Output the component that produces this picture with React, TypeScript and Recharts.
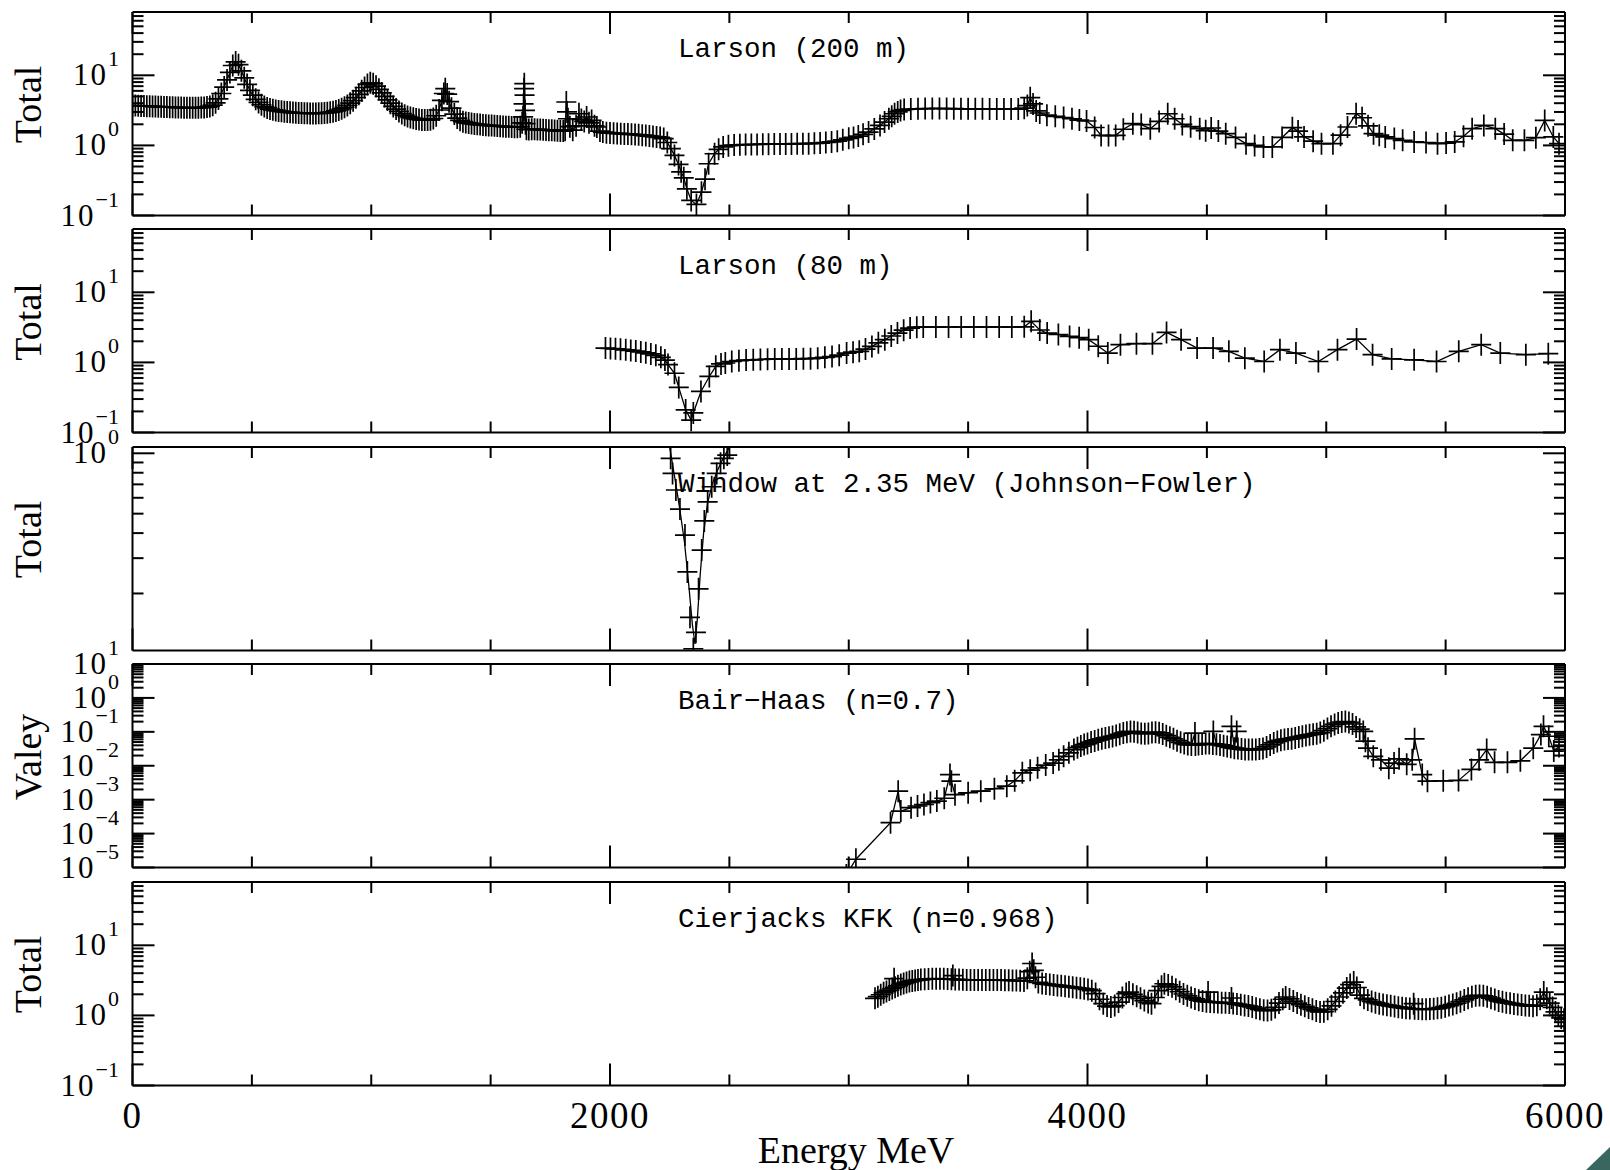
import React from 'react';
import { ComposedChart, Line, Scatter, XAxis, YAxis } from 'recharts';

type Pt = [number, number];

// ---- axis ticks -------------------------------------------------------
const ENERGY_TICKS = [0, 500, 1000, 1500, 2000, 2500, 3000, 3500, 4000, 4500, 5000, 5500, 6000];
const ENERGY_MAJOR = [0, 2000, 4000, 6000];

const TOTAL_DOMAIN: [number, number] = [0.1, 80];
const TOTAL_MAJORS = [
  { value: 0.1, exp: '\u22121' },
  { value: 1, exp: '0' },
  { value: 10, exp: '1' },
];
const TOTAL_MINORS = [0.2, 0.3, 0.4, 0.5, 0.6, 0.7, 0.8, 0.9, 2, 3, 4, 5, 6, 7, 8, 9, 20, 30, 40, 50, 60, 70];

const WINDOW_DOMAIN: [number, number] = [0.1039, 1.075];
const WINDOW_MAJORS = [{ value: 1, exp: '0' }];
const WINDOW_MINORS = [0.2, 0.3, 0.4, 0.5, 0.6, 0.7, 0.8, 0.9];

const VALEY_DOMAIN: [number, number] = [1e-5, 10];
const VALEY_MAJORS = [
  { value: 1e-5, exp: '\u22125' },
  { value: 1e-4, exp: '\u22124' },
  { value: 1e-3, exp: '\u22123' },
  { value: 1e-2, exp: '\u22122' },
  { value: 1e-1, exp: '\u22121' },
  { value: 1, exp: '0' },
  { value: 10, exp: '1' },
];
const VALEY_MINORS = [
  2e-5, 3e-5, 4e-5, 5e-5, 6e-5, 7e-5, 8e-5, 9e-5,
  2e-4, 3e-4, 4e-4, 5e-4, 6e-4, 7e-4, 8e-4, 9e-4,
  2e-3, 3e-3, 4e-3, 5e-3, 6e-3, 7e-3, 8e-3, 9e-3,
  0.02, 0.03, 0.04, 0.05, 0.06, 0.07, 0.08, 0.09,
  0.2, 0.3, 0.4, 0.5, 0.6, 0.7, 0.8, 0.9,
  2, 3, 4, 5, 6, 7, 8, 9,
];

// ---- measured cross sections [energy, value] --------------------------
const larson200: Pt[] = [
  [0, 3.7], [12, 3.7], [24, 3.68], [36, 3.66], [48, 3.65], [60, 3.63], [72, 3.62], [84, 3.6], [96, 3.58],
  [108, 3.57], [120, 3.55], [132, 3.54], [144, 3.52], [156, 3.5], [168, 3.5], [180, 3.48], [192, 3.47],
  [204, 3.46], [216, 3.45], [228, 3.45], [240, 3.44], [252, 3.44], [264, 3.44], [276, 3.45], [288, 3.46],
  [300, 3.48], [312, 3.52], [324, 3.6], [336, 3.75], [348, 4.05], [360, 4.6], [372, 5.5], [384, 6.8],
  [396, 8.6], [408, 11.0], [420, 13.8], [432, 15.5], [444, 14.2], [456, 11.6], [468, 9.2], [480, 7.4],
  [492, 6.1], [504, 5.2], [516, 4.55], [528, 4.1], [540, 3.8], [552, 3.58], [564, 3.42], [576, 3.3],
  [588, 3.22], [600, 3.15], [612, 3.1], [624, 3.06], [636, 3.02], [648, 2.99], [660, 2.96], [672, 2.94],
  [684, 2.92], [696, 2.9], [708, 2.89], [720, 2.88], [732, 2.87], [744, 2.86], [756, 2.86], [768, 2.86],
  [780, 2.87], [792, 2.88], [804, 2.9], [816, 2.93], [828, 2.97], [840, 3.02], [852, 3.1], [864, 3.2],
  [876, 3.33], [888, 3.5], [900, 3.72], [912, 4.0], [924, 4.35], [936, 4.8], [948, 5.35], [960, 6.0],
  [972, 6.7], [984, 7.4], [996, 7.8], [1008, 7.6], [1020, 7.0], [1032, 6.3], [1044, 5.6], [1056, 5.0],
  [1068, 4.45], [1080, 4.0], [1092, 3.6], [1104, 3.3], [1116, 3.05], [1128, 2.85], [1140, 2.7],
  [1152, 2.58], [1164, 2.5], [1176, 2.43], [1188, 2.38], [1200, 2.34], [1212, 2.31], [1224, 2.3],
  [1236, 2.3], [1248, 2.33], [1260, 2.42], [1272, 2.65], [1284, 3.2], [1296, 4.4], [1304, 5.5],
  [1310, 6.45], [1318, 5.4], [1326, 4.2], [1336, 3.4], [1348, 2.8], [1360, 2.45], [1372, 2.28],
  [1384, 2.18], [1396, 2.12], [1408, 2.08], [1420, 2.05], [1432, 2.02], [1444, 2.0], [1456, 1.98],
  [1468, 1.96], [1480, 1.94], [1492, 1.93], [1504, 1.92], [1516, 1.9], [1528, 1.89], [1540, 1.88],
  [1552, 1.86], [1564, 1.85], [1576, 1.84], [1588, 1.83], [1600, 1.82], [1612, 1.82], [1624, 1.85],
  [1632, 2.1], [1636, 2.55], [1638, 3.9], [1640, 6.45], [1641, 7.6], [1642, 5.2], [1644, 3.16],
  [1646, 2.04], [1650, 1.7], [1660, 1.68], [1672, 1.7], [1684, 1.7], [1696, 1.69], [1708, 1.68],
  [1720, 1.67], [1732, 1.66], [1744, 1.65], [1756, 1.64], [1768, 1.63], [1780, 1.62], [1792, 1.6],
  [1804, 1.6], [1812, 1.65], [1817, 4.16], [1820, 3.0], [1824, 2.4], [1832, 1.85], [1844, 1.65],
  [1858, 1.9], [1870, 2.83], [1880, 2.35], [1892, 2.2], [1902, 2.54], [1912, 2.1], [1923, 2.27],
  [1935, 1.9], [1945, 1.83], [1958, 1.6], [1970, 1.55], [1985, 1.52], [2000, 1.5], [2015, 1.49],
  [2030, 1.48], [2045, 1.47], [2060, 1.46], [2075, 1.45], [2090, 1.44], [2105, 1.43], [2120, 1.42],
  [2135, 1.4], [2150, 1.38], [2165, 1.36], [2180, 1.34], [2195, 1.32], [2210, 1.3], [2225, 1.25],
  [2240, 1.1], [2255, 0.9], [2270, 0.72], [2287, 0.535], [2298, 0.42], [2309, 0.345], [2322, 0.24],
  [2340, 0.164], [2362, 0.144], [2383, 0.215], [2398, 0.33], [2413, 0.547], [2438, 0.76], [2455, 0.88],
  [2474, 0.95], [2496, 0.99], [2520, 1.01], [2544, 1.02], [2568, 1.03], [2592, 1.03], [2616, 1.03],
  [2640, 1.04], [2664, 1.04], [2688, 1.05], [2712, 1.05], [2736, 1.05], [2760, 1.05], [2784, 1.06],
  [2808, 1.06], [2832, 1.06], [2856, 1.07], [2880, 1.08], [2904, 1.1], [2928, 1.12], [2952, 1.15],
  [2975, 1.2], [3000, 1.26], [3020, 1.3], [3040, 1.36], [3060, 1.44], [3083, 1.55], [3107, 1.72],
  [3131, 1.93], [3150, 2.15], [3168, 2.4], [3180, 2.6], [3192, 2.83], [3205, 3.0], [3217, 3.16],
  [3232, 3.25], [3260, 3.3], [3290, 3.33], [3320, 3.35], [3350, 3.36], [3380, 3.36], [3410, 3.35],
  [3440, 3.34], [3470, 3.33], [3500, 3.32], [3530, 3.32], [3560, 3.32], [3590, 3.31], [3620, 3.31],
  [3650, 3.3], [3680, 3.3], [3710, 3.3], [3735, 3.4], [3748, 3.7], [3760, 4.8], [3772, 3.9],
  [3785, 3.1], [3800, 2.9], [3830, 2.7], [3865, 2.6], [3900, 2.5], [3935, 2.4], [3966, 2.3],
  [3996, 2.23], [4030, 1.8], [4057, 1.39], [4088, 1.38], [4118, 1.39], [4150, 1.7], [4190, 2.04],
  [4225, 1.98], [4263, 1.73], [4300, 2.2], [4336, 2.83], [4365, 2.4], [4397, 1.99], [4432, 1.85],
  [4470, 1.73], [4495, 1.62], [4518, 1.77], [4548, 1.6], [4579, 1.47], [4620, 1.3], [4664, 1.06],
  [4700, 1.0], [4737, 0.95], [4774, 0.95], [4815, 1.3], [4858, 1.79], [4882, 1.6], [4907, 1.32],
  [4945, 1.15], [4980, 1.06], [5028, 1.06], [5060, 1.4], [5089, 1.83], [5125, 2.83], [5150, 2.48],
  [5175, 1.9], [5198, 1.47], [5222, 1.4], [5247, 1.32], [5285, 1.25], [5320, 1.18], [5368, 1.12],
  [5418, 1.1], [5466, 1.06], [5502, 1.08], [5538, 1.12], [5575, 1.35], [5611, 1.73], [5660, 1.93],
  [5708, 1.73], [5745, 1.45], [5781, 1.18], [5830, 1.18], [5878, 1.29], [5915, 2.27], [5951, 1.32],
  [5975, 1.06],
];

const larson80: Pt[] = [
  [1981, 1.6], [2002, 1.58], [2023, 1.56], [2044, 1.54], [2066, 1.51], [2087, 1.48], [2108, 1.45],
  [2129, 1.41], [2150, 1.37], [2171, 1.32], [2192, 1.26], [2213, 1.18], [2230, 1.08], [2243, 0.93],
  [2270, 0.7], [2288, 0.44], [2317, 0.21], [2340, 0.15], [2349, 0.19], [2381, 0.385], [2416, 0.63],
  [2443, 0.88], [2465, 0.95], [2483, 0.98], [2510, 1.03], [2540, 1.06], [2570, 1.08], [2600, 1.09],
  [2630, 1.1], [2660, 1.11], [2690, 1.12], [2720, 1.12], [2750, 1.12], [2780, 1.12], [2810, 1.13],
  [2840, 1.13], [2870, 1.15], [2900, 1.18], [2930, 1.21], [2960, 1.27], [2991, 1.36], [3018, 1.4],
  [3044, 1.44], [3070, 1.55], [3097, 1.69], [3124, 1.9], [3151, 2.11], [3178, 2.38], [3204, 2.62],
  [3230, 2.88], [3257, 3.09], [3285, 3.18], [3312, 3.2], [3365, 3.2], [3418, 3.2], [3471, 3.2],
  [3524, 3.2], [3577, 3.2], [3630, 3.2], [3683, 3.2], [3735, 3.22], [3764, 3.85], [3800, 2.9],
  [3831, 2.62], [3878, 2.5], [3925, 2.35], [3965, 2.25], [4005, 2.11], [4045, 1.7], [4085, 1.36],
  [4138, 1.79], [4205, 1.85], [4272, 1.85], [4331, 2.68], [4392, 2.11], [4459, 1.6], [4526, 1.6],
  [4592, 1.44], [4659, 1.15], [4740, 1.03], [4806, 1.52], [4873, 1.36], [4967, 1.03], [5047, 1.52],
  [5127, 2.15], [5194, 1.29], [5274, 1.12], [5368, 1.09], [5462, 1.03], [5555, 1.44], [5649, 1.79],
  [5729, 1.36], [5836, 1.29], [5930, 1.33],
];

const windowPoints: Pt[] = [
  [2254, 0.944], [2262, 0.794], [2276, 0.656], [2293, 0.527], [2314, 0.391], [2324, 0.256],
  [2335, 0.152], [2349, 0.106], [2360, 0.128], [2371, 0.211], [2384, 0.329], [2395, 0.46],
  [2409, 0.573], [2426, 0.681], [2447, 0.794], [2463, 0.891], [2477, 0.944], [2491, 0.98],
];

const windowCurve: Pt[] = [
  [2250, 1.07], [2262, 0.88], [2276, 0.7], [2293, 0.52], [2312, 0.36], [2330, 0.22], [2345, 0.14],
  [2356, 0.112], [2366, 0.15], [2378, 0.25], [2392, 0.4], [2408, 0.56], [2428, 0.7], [2450, 0.82],
  [2475, 0.95], [2500, 1.07],
];

const bairHaas: Pt[] = [
  [2990, 6e-6], [3030, 1.75e-5], [3175, 2.1e-4], [3207, 1.78e-3], [3218, 4.6e-4], [3261, 5.8e-4],
  [3288, 6.5e-4], [3315, 7.2e-4], [3342, 8.2e-4], [3369, 9.1e-4], [3400, 1.1e-3], [3424, 5.5e-3],
  [3430, 3.5e-3], [3445, 1.4e-3], [3500, 1.6e-3], [3553, 1.78e-3], [3610, 2.1e-3], [3662, 2.5e-3],
  [3695, 3.6e-3], [3727, 6.2e-3], [3760, 7.4e-3], [3791, 8.7e-3], [3825, 0.0105], [3856, 0.012],
  [3880, 0.015], [3900, 0.019], [3922, 0.024], [3943, 0.03], [3958, 0.034], [3972, 0.038],
  [3986, 0.042], [4000, 0.045], [4015, 0.05], [4030, 0.054], [4045, 0.058], [4060, 0.062],
  [4075, 0.066], [4090, 0.069], [4105, 0.073], [4120, 0.078], [4135, 0.085], [4150, 0.092],
  [4165, 0.098], [4180, 0.103], [4195, 0.1], [4210, 0.095], [4225, 0.09], [4240, 0.088],
  [4255, 0.09], [4270, 0.095], [4285, 0.098], [4300, 0.094], [4315, 0.086], [4330, 0.077],
  [4345, 0.069], [4360, 0.062], [4375, 0.055], [4390, 0.049], [4405, 0.045], [4420, 0.042],
  [4435, 0.041], [4450, 0.092], [4452, 0.041], [4465, 0.042], [4480, 0.044], [4495, 0.045],
  [4510, 0.045], [4525, 0.044], [4527, 0.103], [4540, 0.043], [4555, 0.041], [4570, 0.039],
  [4585, 0.037], [4600, 0.035], [4603, 0.145], [4615, 0.033], [4625, 0.103], [4630, 0.032],
  [4645, 0.031], [4660, 0.03], [4675, 0.03], [4690, 0.03], [4705, 0.03], [4720, 0.031],
  [4735, 0.032], [4750, 0.036], [4765, 0.041], [4780, 0.047], [4795, 0.052], [4810, 0.056],
  [4825, 0.059], [4840, 0.061], [4855, 0.063], [4870, 0.066], [4885, 0.07], [4900, 0.074],
  [4915, 0.078], [4930, 0.082], [4945, 0.085], [4960, 0.088], [4975, 0.095], [4990, 0.108],
  [5005, 0.125], [5020, 0.145], [5035, 0.165], [5050, 0.182], [5065, 0.195], [5080, 0.2],
  [5095, 0.19], [5110, 0.17], [5125, 0.14], [5140, 0.12], [5155, 0.103], [5164, 0.053],
  [5175, 0.033], [5197, 0.019], [5229, 0.015], [5262, 8.5e-3], [5284, 0.012], [5305, 0.016],
  [5337, 0.011], [5360, 0.015], [5370, 0.062], [5402, 5.5e-3], [5424, 3.5e-3], [5490, 3.6e-3],
  [5554, 3.7e-3], [5608, 7.8e-3], [5640, 0.015], [5672, 0.03], [5705, 0.0126], [5759, 0.0126],
  [5813, 0.014], [5867, 0.033], [5899, 0.083], [5910, 0.145], [5932, 0.074], [5953, 0.027],
  [5975, 0.037],
];

const cierjacks: Pt[] = [
  [3110, 1.75], [3122, 1.85], [3134, 1.97], [3146, 2.1], [3158, 2.2], [3170, 2.3], [3182, 2.42],
  [3190, 3.34], [3194, 2.52], [3206, 2.64], [3218, 2.76], [3230, 2.86], [3242, 2.95], [3254, 3.04],
  [3266, 3.1], [3278, 3.16], [3290, 3.2], [3302, 3.24], [3318, 3.28], [3334, 3.31], [3350, 3.33],
  [3366, 3.34], [3382, 3.33], [3398, 3.32], [3414, 3.3], [3430, 3.28], [3436, 3.7], [3446, 3.26],
  [3462, 3.24], [3478, 3.22], [3494, 3.2], [3510, 3.2], [3526, 3.2], [3542, 3.2], [3558, 3.2],
  [3574, 3.2], [3590, 3.2], [3606, 3.2], [3622, 3.2], [3638, 3.19], [3654, 3.18], [3670, 3.17],
  [3686, 3.15], [3702, 3.14], [3718, 3.12], [3734, 3.1], [3748, 3.4], [3758, 4.2], [3768, 5.5],
  [3775, 4.4], [3782, 3.5], [3794, 2.95], [3810, 2.85], [3826, 2.8], [3842, 2.76], [3858, 2.72],
  [3874, 2.68], [3890, 2.64], [3906, 2.6], [3922, 2.56], [3938, 2.52], [3954, 2.48], [3970, 2.44],
  [3986, 2.4], [4002, 2.35], [4018, 2.25], [4034, 2.05], [4050, 1.7], [4066, 1.47], [4082, 1.36],
  [4098, 1.32], [4114, 1.38], [4130, 1.55], [4146, 1.8], [4162, 2.05], [4174, 2.15], [4190, 2.0],
  [4206, 1.87], [4222, 1.75], [4238, 1.63], [4254, 1.53], [4268, 1.47], [4282, 1.8], [4296, 2.25],
  [4310, 2.6], [4322, 2.83], [4338, 2.72], [4354, 2.56], [4370, 2.36], [4386, 2.18], [4402, 2.02],
  [4418, 1.9], [4434, 1.8], [4450, 1.72], [4466, 1.65], [4482, 1.6], [4498, 1.57], [4505, 2.15],
  [4514, 1.55], [4530, 1.54], [4546, 1.53], [4562, 1.52], [4578, 1.51], [4594, 1.5], [4603, 1.77],
  [4610, 1.48], [4626, 1.45], [4642, 1.42], [4658, 1.39], [4674, 1.36], [4690, 1.32], [4706, 1.27],
  [4722, 1.22], [4738, 1.18], [4754, 1.17], [4770, 1.2], [4786, 1.3], [4802, 1.5], [4818, 1.7],
  [4830, 1.83], [4846, 1.72], [4862, 1.6], [4878, 1.5], [4894, 1.42], [4910, 1.35], [4926, 1.28],
  [4942, 1.22], [4958, 1.16], [4974, 1.12], [4990, 1.13], [5006, 1.22], [5022, 1.37], [5038, 1.58],
  [5054, 1.83], [5070, 2.1], [5086, 2.45], [5100, 2.75], [5115, 2.99], [5128, 2.5], [5142, 1.95],
  [5158, 1.75], [5174, 1.66], [5190, 1.58], [5206, 1.52], [5222, 1.47], [5238, 1.43], [5254, 1.4],
  [5270, 1.37], [5286, 1.34], [5302, 1.31], [5318, 1.29], [5334, 1.27], [5350, 1.25], [5366, 1.47],
  [5370, 1.24], [5386, 1.23], [5402, 1.22], [5418, 1.22], [5434, 1.23], [5450, 1.24], [5466, 1.26],
  [5482, 1.29], [5498, 1.33], [5514, 1.38], [5530, 1.43], [5546, 1.49], [5562, 1.57], [5578, 1.66],
  [5594, 1.76], [5610, 1.85], [5626, 1.91], [5642, 1.93], [5658, 1.9], [5674, 1.84], [5690, 1.76],
  [5706, 1.68], [5722, 1.61], [5738, 1.56], [5754, 1.52], [5770, 1.49], [5786, 1.46], [5802, 1.43],
  [5818, 1.41], [5834, 1.39], [5850, 1.37], [5866, 1.35], [5882, 1.4], [5896, 1.7], [5911, 2.15],
  [5924, 1.75], [5936, 1.5], [5948, 1.3], [5960, 1.12], [5972, 1.0], [5984, 0.92], [5996, 0.88],
];

// ---- layout ------------------------------------------------------------
const PAGE_W = 1610;
const PAGE_H = 1170;
const PLOT_L = 132.5;
const PLOT_R = 1565;
const PANEL_H = 203.5;
const PANEL_PITCH = 217.5;
const FIRST_TOP = 11.7;
const PAD = 34;
const X_AXIS_H = 24;
const LABEL_RIGHT = 119;
const MONO = '"Liberation Mono", "DejaVu Sans Mono", monospace';
const SERIF = '"Liberation Serif", "DejaVu Serif", serif';

interface Major {
  value: number;
  exp: string;
}

interface PanelSpec {
  title: string;
  yLabel: string;
  domain: [number, number];
  majors: Major[];
  minors: number[];
  points: Pt[];
  curve?: Pt[];
}

const PANELS: PanelSpec[] = [
  { title: 'Larson (200 m)', yLabel: 'Total', domain: TOTAL_DOMAIN, majors: TOTAL_MAJORS, minors: TOTAL_MINORS, points: larson200 },
  { title: 'Larson (80 m)', yLabel: 'Total', domain: TOTAL_DOMAIN, majors: TOTAL_MAJORS, minors: TOTAL_MINORS, points: larson80 },
  {
    title: 'Window at 2.35 MeV (Johnson\u2212Fowler)',
    yLabel: 'Total',
    domain: WINDOW_DOMAIN,
    majors: WINDOW_MAJORS,
    minors: WINDOW_MINORS,
    points: windowPoints,
    curve: windowCurve,
  },
  { title: 'Bair\u2212Haas (n=0.7)', yLabel: 'Valey', domain: VALEY_DOMAIN, majors: VALEY_MAJORS, minors: VALEY_MINORS, points: bairHaas },
  { title: 'Cierjacks KFK (n=0.968)', yLabel: 'Total', domain: TOTAL_DOMAIN, majors: TOTAL_MAJORS, minors: TOTAL_MINORS, points: cierjacks },
];

const toRows = (pts: Pt[]) => pts.map(([e, v]) => ({ e, v }));

const PlusMark = (props: any) => {
  const { cx, cy } = props;
  if (cx == null || cy == null || !isFinite(cx) || !isFinite(cy)) return <g />;
  return (
    <g>
      <line x1={cx - 10} x2={cx + 10} y1={cy} y2={cy} stroke="#000" strokeWidth={1.7} />
      <line x1={cx} x2={cx} y1={cy - 11} y2={cy + 11} stroke="#000" strokeWidth={1.7} />
    </g>
  );
};

function Panel({ spec, index, last }: { spec: PanelSpec; index: number; last: boolean }) {
  const top = FIRST_TOP + index * PANEL_PITCH;
  const padBottom = last ? 64 : PAD;
  const height = PAD + PANEL_H + padBottom;
  const plotTop = PAD;
  const plotBottom = PAD + PANEL_H;
  const majorValues = spec.majors.map((m) => m.value);
  const yTicks = [...majorValues, ...spec.minors].sort((a, b) => a - b);
  const expOf = new Map(spec.majors.map((m) => [m.value, m.exp]));

  const coordOf = (p: any, key: 'x' | 'y') =>
    p.payload && typeof p.payload.coordinate === 'number' ? p.payload.coordinate : p[key];

  const leftTick = (p: any) => {
    const v = p.payload.value;
    const y = coordOf(p, 'y');
    const len = expOf.has(v) ? 22 : 11;
    const exp = expOf.get(v);
    return (
      <g>
        <line x1={PLOT_L} x2={PLOT_L + len} y1={y} y2={y} stroke="#000" strokeWidth={2} />
        {exp !== undefined && (
          <text x={LABEL_RIGHT} y={y + 10} textAnchor="end" fontFamily={SERIF} fill="#000">
            <tspan fontSize={31} letterSpacing={2}>
              10
            </tspan>
            <tspan fontSize={22} dy={-19}>
              {exp}
            </tspan>
          </text>
        )}
      </g>
    );
  };

  const rightTick = (p: any) => {
    const v = p.payload.value;
    const y = coordOf(p, 'y');
    const len = expOf.has(v) ? 22 : 11;
    return <line x1={PLOT_R} x2={PLOT_R - len} y1={y} y2={y} stroke="#000" strokeWidth={2} />;
  };

  const bottomTick = (p: any) => {
    const v = p.payload.value;
    const x = coordOf(p, 'x');
    const major = ENERGY_MAJOR.includes(v);
    const len = major ? 22 : 11;
    return (
      <g>
        <line x1={x} x2={x} y1={plotBottom} y2={plotBottom - len} stroke="#000" strokeWidth={2} />
        {last && major && (
          <text x={x} y={plotBottom + 42} textAnchor="middle" fontFamily={SERIF} fontSize={37} letterSpacing={1.5} fill="#000">
            {v}
          </text>
        )}
      </g>
    );
  };

  const topTick = (p: any) => {
    const v = p.payload.value;
    const x = coordOf(p, 'x');
    const len = ENERGY_MAJOR.includes(v) ? 22 : 11;
    return <line x1={x} x2={x} y1={plotTop} y2={plotTop + len} stroke="#000" strokeWidth={2} />;
  };

  const rows = toRows(spec.points);
  const curveRows = spec.curve ? toRows(spec.curve) : rows;

  return (
    <div style={{ position: 'absolute', left: 0, top: top - PAD, width: PAGE_W, height }}>
      <ComposedChart
        width={PAGE_W}
        height={height}
        margin={{ top: PAD - X_AXIS_H, bottom: padBottom - X_AXIS_H, left: 0, right: 0 }}
      >
        <XAxis
          xAxisId="b"
          dataKey="e"
          type="number"
          domain={[0, 6000]}
          ticks={ENERGY_TICKS}
          interval={0}
          height={X_AXIS_H}
          tickLine={false}
          axisLine={{ stroke: '#000', strokeWidth: 2 }}
          tick={bottomTick}
          allowDataOverflow
        />
        <XAxis
          xAxisId="t"
          orientation="top"
          dataKey="e"
          type="number"
          domain={[0, 6000]}
          ticks={ENERGY_TICKS}
          interval={0}
          height={X_AXIS_H}
          tickLine={false}
          axisLine={{ stroke: '#000', strokeWidth: 2 }}
          tick={topTick}
          allowDataOverflow
        />
        <YAxis
          yAxisId="l"
          dataKey="v"
          type="number"
          scale="log"
          domain={spec.domain}
          ticks={yTicks}
          interval={0}
          width={PLOT_L}
          tickLine={false}
          axisLine={{ stroke: '#000', strokeWidth: 2 }}
          tick={leftTick}
          allowDataOverflow
        />
        <YAxis
          yAxisId="r"
          orientation="right"
          dataKey="v"
          type="number"
          scale="log"
          domain={spec.domain}
          ticks={yTicks}
          interval={0}
          width={PAGE_W - PLOT_R}
          tickLine={false}
          axisLine={{ stroke: '#000', strokeWidth: 2 }}
          tick={rightTick}
          allowDataOverflow
        />
        <Line
          data={curveRows}
          xAxisId="b"
          yAxisId="l"
          dataKey="v"
          type="linear"
          stroke="#000"
          strokeWidth={1.3}
          dot={false}
          activeDot={false}
          isAnimationActive={false}
        />
        <Scatter
          data={rows}
          xAxisId="b"
          yAxisId="l"
          dataKey="v"
          shape={(p: any) => <PlusMark {...p} />}
          isAnimationActive={false}
        />
      </ComposedChart>
    </div>
  );
}

export default function App() {
  return (
    <div style={{ position: 'absolute', left: 0, top: 0, width: PAGE_W, height: PAGE_H, background: '#fff', overflow: 'hidden' }}>
      {PANELS.map((spec, i) => (
        <Panel key={spec.title} spec={spec} index={i} last={i === PANELS.length - 1} />
      ))}
      <svg
        width={PAGE_W}
        height={PAGE_H}
        style={{ position: 'absolute', left: 0, top: 0, pointerEvents: 'none' }}
      >
        {PANELS.map((spec, i) => {
          const top = FIRST_TOP + i * PANEL_PITCH;
          const mid = top + PANEL_H / 2 - 9;
          return (
            <g key={spec.title}>
              <text x={678} y={top + 45} fontFamily={MONO} fontSize={27.5} fill="#000">
                {spec.title}
              </text>
              <text
                transform={`translate(41, ${mid}) rotate(-90)`}
                textAnchor="middle"
                fontFamily={SERIF}
                fontSize={38}
                fill="#000"
              >
                {spec.yLabel}
              </text>
            </g>
          );
        })}
        <text x={856} y={1163} textAnchor="middle" fontFamily={SERIF} fontSize={38} fill="#000">
          Energy MeV
        </text>
        <polygon points="1586,1170 1610,1147 1610,1170" fill="#3a6660" />
      </svg>
    </div>
  );
}
